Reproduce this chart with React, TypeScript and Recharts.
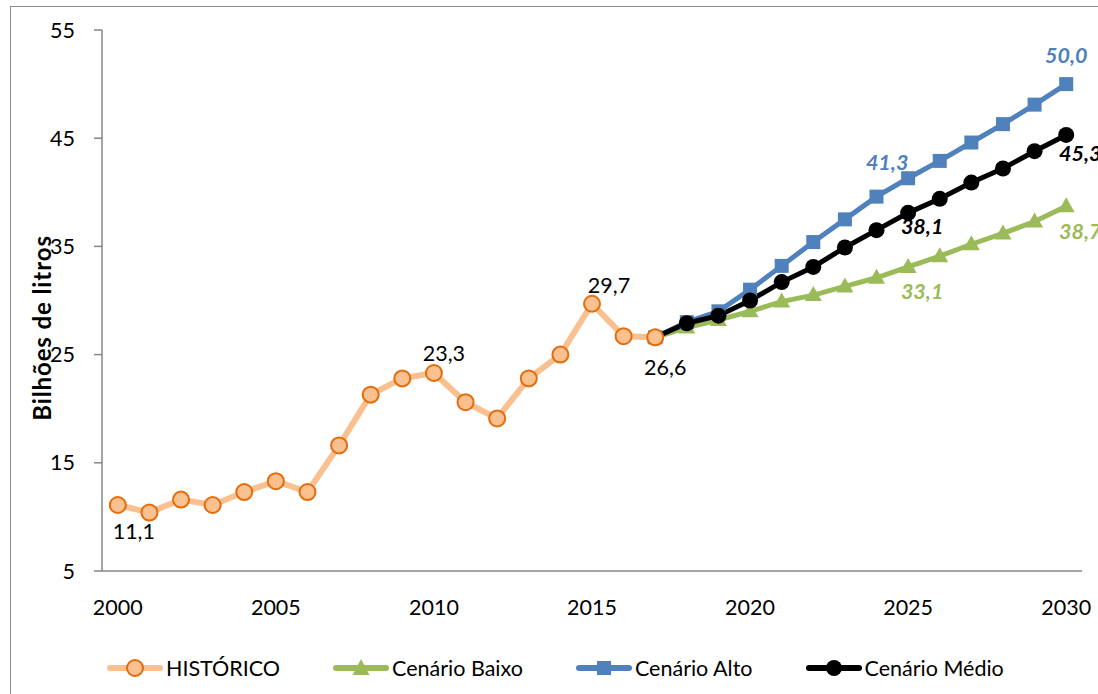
import React from 'react';
import { LineChart, Line, XAxis, YAxis, Legend } from 'recharts';

const years = [
  2000, 2001, 2002, 2003, 2004, 2005, 2006, 2007, 2008, 2009, 2010,
  2011, 2012, 2013, 2014, 2015, 2016, 2017, 2018, 2019, 2020,
  2021, 2022, 2023, 2024, 2025, 2026, 2027, 2028, 2029, 2030,
];
// 2000 - 2017
const historico = [11.1, 10.4, 11.6, 11.1, 12.3, 13.3, 12.3, 16.6, 21.3, 22.8, 23.3, 20.6, 19.1, 22.8, 25.0, 29.7, 26.7, 26.6];
// 2017 - 2030
const cenarioBaixo = [26.6, 27.5, 28.2, 29.0, 29.9, 30.5, 31.3, 32.1, 33.1, 34.1, 35.2, 36.2, 37.3, 38.7];
const cenarioAlto = [26.6, 28.0, 29.0, 31.0, 33.2, 35.4, 37.5, 39.6, 41.3, 42.9, 44.6, 46.3, 48.1, 50.0];
const cenarioMedio = [26.6, 27.9, 28.6, 30.0, 31.7, 33.1, 34.9, 36.5, 38.1, 39.4, 40.9, 42.2, 43.8, 45.3];

const yTicks = [5, 15, 25, 35, 45, 55];
const xTicks = [2000, 2005, 2010, 2015, 2020, 2025, 2030];

const firstScenarioYear = 2017;

const data = years.map((year, i) => ({
  year,
  historico: i < historico.length ? historico[i] : null,
  baixo: year >= firstScenarioYear ? cenarioBaixo[year - firstScenarioYear] : null,
  alto: year >= firstScenarioYear ? cenarioAlto[year - firstScenarioYear] : null,
  medio: year >= firstScenarioYear ? cenarioMedio[year - firstScenarioYear] : null,
}));

// tick marks sit between categories, like the original
const boundaries = [...years.map((y) => y - 0.5), years[years.length - 1] + 0.5];

const FONT = 'Lato, "Open Sans", sans-serif';
const FS = 21.5;
const AXIS = '#868686';

const ORANGE_LINE = '#FAC090';
const ORANGE_EDGE = '#E46C0A';
const GREEN = '#9BBB59';
const BLUE = '#4F81BD';
const BLACK = '#000000';

// which points get a value label, and where (offset from the point)
const labelSpots: Record<string, Record<number, [number, number]>> = {
  historico: { 2000: [16, 26], 2010: [10, -20], 2015: [17, -19], 2017: [10, 30] },
  baixo: { 2025: [14, 24], 2030: [14, 25] },
  alto: { 2025: [-21, -16], 2030: [0, -29] },
  medio: { 2025: [14, 13], 2030: [14, 18] },
};

const fmt = (v: number) => v.toFixed(1).replace('.', ',');

const makeLabel = (key: string, color: string, emphasis: boolean) => (props: any) => {
  const { x, y, index, value } = props;
  const year = data[index]?.year;
  const spot = labelSpots[key][year];
  if (!spot || value == null) return null;
  return (
    <text
      key={`${key}-lbl-${index}`}
      x={x + spot[0]}
      y={y + spot[1]}
      textAnchor="middle"
      dominantBaseline="central"
      fontSize={FS}
      fontFamily={FONT}
      fontWeight={emphasis ? 700 : 400}
      fontStyle={emphasis ? 'italic' : 'normal'}
      fill={color}
    >
      {fmt(value)}
    </text>
  );
};

const circleDot = (fill: string, stroke: string, r: number, sw: number) => (props: any) => {
  const { cx, cy, index } = props;
  if (cx == null || cy == null) return <g key={`c-${index}`} />;
  return <circle key={`c-${index}`} cx={cx} cy={cy} r={r} fill={fill} stroke={stroke} strokeWidth={sw} />;
};

const squareDot = (props: any) => {
  const { cx, cy, index } = props;
  if (cx == null || cy == null) return <g key={`s-${index}`} />;
  return <rect key={`s-${index}`} x={cx - 7} y={cy - 7} width={14} height={14} fill={BLUE} />;
};

const triangleDot = (props: any) => {
  const { cx, cy, index } = props;
  if (cx == null || cy == null) return <g key={`t-${index}`} />;
  return (
    <polygon
      key={`t-${index}`}
      points={`${cx},${cy - 9} ${cx - 8.5},${cy + 6} ${cx + 8.5},${cy + 6}`}
      fill={GREEN}
    />
  );
};

const legendItems = [
  { name: 'HISTÓRICO', kind: 'hist' },
  { name: 'Cenário Baixo', kind: 'baixo' },
  { name: 'Cenário Alto', kind: 'alto' },
  { name: 'Cenário Médio', kind: 'medio' },
];

const LegendIcon = ({ kind }: { kind: string }) => {
  const line = kind === 'hist' ? ORANGE_LINE : kind === 'baixo' ? GREEN : kind === 'alto' ? BLUE : BLACK;
  return (
    <svg width={56} height={22} style={{ display: 'block' }}>
      <line x1={3} y1={11} x2={53} y2={11} stroke={line} strokeWidth={6} strokeLinecap="round" />
      {kind === 'hist' && <circle cx={28} cy={11} r={8} fill={ORANGE_LINE} stroke={ORANGE_EDGE} strokeWidth={2} />}
      {kind === 'baixo' && <polygon points="28,2 19.5,18 36.5,18" fill={GREEN} />}
      {kind === 'alto' && <rect x={21} y={4} width={14} height={14} fill={BLUE} />}
      {kind === 'medio' && <circle cx={28} cy={11} r={8} fill={BLACK} />}
    </svg>
  );
};

const LegendContent = () => (
  <div
    style={{
      display: 'flex',
      alignItems: 'center',
      height: 32,
      paddingLeft: 107,
      gap: 53,
      fontFamily: FONT,
      fontSize: FS,
      color: '#000',
    }}
  >
    {legendItems.map((it) => (
      <div key={it.name} style={{ display: 'flex', alignItems: 'center' }}>
        <LegendIcon kind={it.kind} />
        <span style={{ marginLeft: 3, lineHeight: '32px' }}>{it.name}</span>
      </div>
    ))}
  </div>
);

const YTitle = () => (
  <text
    x={41}
    y={328}
    transform="rotate(-90, 41, 328)"
    textAnchor="middle"
    dominantBaseline="central"
    fontFamily={FONT}
    fontSize={24}
    letterSpacing={0.9}
    fontWeight={700}
    fill="#000"
  >
    Bilhões de litros
  </text>
);

export default function App() {
  return (
    <div
      style={{
        position: 'absolute',
        left: 0,
        top: 0,
        width: 1098,
        height: 694,
        overflow: 'hidden',
        background: '#fff',
        fontFamily: FONT,
      }}
    >
      <div
        style={{
          position: 'absolute',
          left: 10,
          top: 6,
          width: 1200,
          height: 800,
          border: '1.5px solid #8c8c8c',
        }}
      />
      <LineChart
        width={1098}
        height={694}
        data={data}
        margin={{ top: 30, right: 16, bottom: 63, left: 0 }}
      >
        <XAxis
          xAxisId="marks"
          type="number"
          domain={[1999.5, 2030.5]}
          allowDataOverflow
          ticks={boundaries}
          tick={false}
          tickSize={8}
          height={1}
          stroke={AXIS}
          strokeWidth={1.5}
        />
        <XAxis
          xAxisId="year"
          dataKey="year"
          type="number"
          domain={[1999.5, 2030.5]}
          allowDataOverflow
          ticks={xTicks}
          interval={0}
          axisLine={false}
          tickLine={false}
          tickSize={8}
          tickMargin={20}
          height={59}
          tick={{ fontSize: FS, fill: '#000', fontFamily: FONT }}
        />
        <YAxis
          type="number"
          domain={[5, 55]}
          ticks={yTicks}
          interval={0}
          width={102}
          tickSize={8}
          tickMargin={19}
          stroke={AXIS}
          strokeWidth={1.5}
          tick={{ fontSize: FS, fill: '#000', fontFamily: FONT }}
          label={<YTitle />}
        />
        <Legend
          layout="horizontal"
          verticalAlign="middle"
          align="center"
          wrapperStyle={{ top: 652, left: 0, width: 1098 }}
          content={() => <LegendContent />}
        />
        <Line
          xAxisId="year"
          dataKey="baixo"
          name="Cenário Baixo"
          type="linear"
          stroke={GREEN}
          strokeWidth={5}
          dot={triangleDot}
          activeDot={false}
          label={makeLabel('baixo', GREEN, true)}
          isAnimationActive={false}
        />
        <Line
          xAxisId="year"
          dataKey="alto"
          name="Cenário Alto"
          type="linear"
          stroke={BLUE}
          strokeWidth={5}
          dot={squareDot}
          activeDot={false}
          label={makeLabel('alto', BLUE, true)}
          isAnimationActive={false}
        />
        <Line
          xAxisId="year"
          dataKey="medio"
          name="Cenário Médio"
          type="linear"
          stroke={BLACK}
          strokeWidth={5}
          dot={circleDot(BLACK, BLACK, 8, 0)}
          activeDot={false}
          label={makeLabel('medio', BLACK, true)}
          isAnimationActive={false}
        />
        <Line
          xAxisId="year"
          dataKey="historico"
          name="HISTÓRICO"
          type="linear"
          stroke={ORANGE_LINE}
          strokeWidth={6}
          dot={circleDot(ORANGE_LINE, ORANGE_EDGE, 8, 2)}
          activeDot={false}
          label={makeLabel('historico', BLACK, false)}
          isAnimationActive={false}
        />
      </LineChart>
    </div>
  );
}
